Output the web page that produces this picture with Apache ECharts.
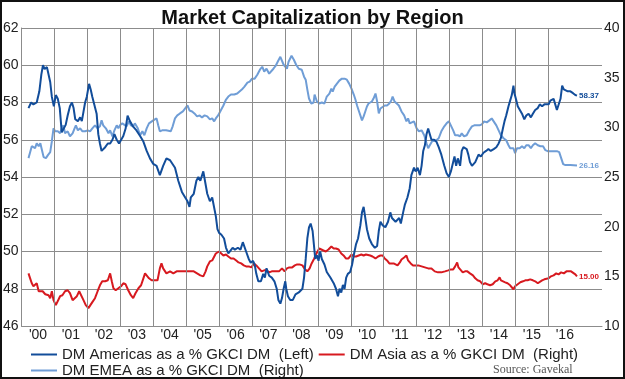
<!DOCTYPE html>
<html>
<head>
<meta charset="utf-8">
<script src="https://cdn.jsdelivr.net/npm/echarts@6/dist/echarts.min.js"></script>
<style>
html,body{margin:0;padding:0;background:#fff;}
#chart{width:625px;height:379px;}
</style>
</head>
<body>
<div id="chart"></div>
<script>
// ---- DATA (decimal year, value) ----
const americas = [
[2000.21,57.7],[2000.29,58.0],[2000.36,57.9],[2000.46,58.0],[2000.54,58.6],[2000.60,59.5],[2000.65,60.0],[2000.70,59.8],[2000.77,59.9],[2000.82,59.8],[2000.87,59.1],[2000.92,58.3],[2000.98,57.8],
[2001.04,58.4],[2001.10,58.2],[2001.16,57.7],[2001.22,56.4],[2001.27,56.3],[2001.34,56.8],[2001.40,57.3],[2001.47,57.8],[2001.53,58.0],[2001.58,57.7],[2001.63,57.1],[2001.71,57.0],[2001.78,57.2],[2001.83,57.0],[2001.88,57.5],[2001.93,58.0],[2001.98,58.3],
[2002.05,59.0],[2002.10,58.7],[2002.15,58.3],[2002.21,58.2],[2002.28,57.4],[2002.33,56.3],[2002.38,55.8],[2002.43,55.4],[2002.48,55.3],[2002.54,55.6],[2002.62,55.8],[2002.69,55.8],[2002.76,56.0],[2002.82,56.3],[2002.89,56.0],[2002.96,55.8],
[2003.02,55.7],[2003.09,56.2],[2003.16,56.6],[2003.22,57.3],[2003.29,57.0],[2003.39,56.7],[2003.49,56.5],[2003.60,56.2],[2003.70,55.9],[2003.80,55.4],[2003.90,55.0],
[2004.00,54.7],[2004.10,54.6],[2004.20,54.1],[2004.30,54.6],[2004.40,55.0],[2004.51,54.9],[2004.56,55.0],[2004.66,54.5],[2004.76,53.8],[2004.87,53.2],[2004.97,52.9],
[2005.04,52.7],[2005.10,52.4],[2005.14,52.9],[2005.23,53.1],[2005.31,53.8],[2005.37,54.0],[2005.43,53.8],[2005.52,54.3],[2005.57,53.8],[2005.64,53.1],[2005.72,52.7],[2005.79,52.9],[2005.85,52.8],[2005.90,51.9],[2005.95,51.2],
[2006.00,51.0],[2006.07,50.9],[2006.15,50.7],[2006.21,50.2],[2006.28,49.9],[2006.34,50.0],[2006.41,50.2],[2006.48,50.1],[2006.57,50.2],[2006.65,50.1],[2006.72,50.5],[2006.77,50.4],[2006.82,50.0],[2006.90,49.6],[2006.96,49.4],
[2007.03,49.5],[2007.08,49.3],[2007.13,48.8],[2007.19,48.4],[2007.27,48.4],[2007.34,48.8],[2007.39,48.6],[2007.44,49.1],[2007.52,48.7],[2007.60,48.6],[2007.68,48.4],[2007.75,48.0],[2007.80,47.4],[2007.86,47.2],[2007.91,47.5],[2007.96,48.0],
[2008.01,48.4],[2008.04,48.0],[2008.09,47.6],[2008.16,47.4],[2008.24,47.4],[2008.32,47.7],[2008.42,47.8],[2008.53,48.0],[2008.58,48.6],[2008.63,49.6],[2008.68,50.7],[2008.73,51.3],[2008.78,51.5],[2008.84,51.1],[2008.92,49.6],[2008.97,49.8],
[2009.02,49.5],[2009.07,50.0],[2009.12,49.6],[2009.20,49.3],[2009.27,48.9],[2009.38,48.6],[2009.48,48.3],[2009.55,48.0],[2009.61,47.6],[2009.66,48.0],[2009.71,47.8],[2009.76,48.2],[2009.81,48.0],[2009.86,48.6],[2009.91,48.8],[2009.98,48.9],
[2010.04,49.3],[2010.09,49.8],[2010.16,50.4],[2010.22,50.7],[2010.29,51.4],[2010.34,52.1],[2010.39,52.4],[2010.44,51.8],[2010.49,51.2],[2010.56,50.7],[2010.64,50.4],[2010.73,50.2],[2010.80,50.3],[2010.85,51.1],[2010.90,51.6],[2010.97,51.4],
[2011.05,51.3],[2011.13,51.6],[2011.20,52.1],[2011.25,51.8],[2011.30,51.9],[2011.36,51.6],[2011.42,51.7],[2011.47,51.8],[2011.52,51.5],[2011.59,52.1],[2011.64,52.5],[2011.72,52.9],[2011.79,53.4],[2011.84,54.1],[2011.92,54.5],[2011.97,54.3],
[2012.03,54.5],[2012.10,54.1],[2012.15,54.6],[2012.20,55.4],[2012.25,55.7],[2012.30,56.3],[2012.35,56.6],[2012.40,56.3],[2012.45,56.0],[2012.53,56.0],[2012.60,55.9],[2012.67,55.6],[2012.75,55.2],[2012.84,54.6],[2012.91,54.2],[2012.98,54.0],
[2013.04,54.3],[2013.11,54.8],[2013.15,55.1],[2013.20,54.6],[2013.25,55.0],[2013.32,54.6],[2013.37,55.4],[2013.42,55.6],[2013.47,55.5],[2013.52,55.5],[2013.57,55.2],[2013.62,54.8],[2013.68,54.6],[2013.73,54.5],[2013.78,54.8],[2013.83,55.0],[2013.88,55.2],[2013.95,55.1],
[2014.03,55.3],[2014.11,55.4],[2014.18,55.5],[2014.25,55.4],[2014.34,55.5],[2014.42,55.6],[2014.49,55.8],[2014.56,56.1],[2014.62,56.6],[2014.67,57.0],[2014.72,57.3],[2014.79,57.8],[2014.84,58.1],[2014.89,58.4],[2014.94,58.9],[2014.97,58.5],
[2015.03,58.1],[2015.07,57.8],[2015.13,57.7],[2015.20,57.4],[2015.27,57.1],[2015.33,57.3],[2015.40,57.4],[2015.47,57.2],[2015.53,57.4],[2015.60,57.6],[2015.68,57.7],[2015.74,57.9],[2015.81,57.8],[2015.88,57.9],[2015.94,58.0],
[2016.01,57.9],[2016.06,58.1],[2016.11,58.0],[2016.16,58.2],[2016.21,57.9],[2016.26,57.6],[2016.31,57.5],[2016.37,58.2],[2016.42,58.9],[2016.47,58.7],[2016.52,58.6],[2016.59,58.6],[2016.67,58.6],[2016.75,58.5],[2016.82,58.4],[2016.87,58.37]
];
const emea = [
[2000.21,26.9],[2000.26,27.5],[2000.31,28.1],[2000.36,28.2],[2000.41,27.9],[2000.46,28.4],[2000.52,28.1],[2000.57,28.4],[2000.62,27.7],[2000.67,27.0],[2000.74,26.9],[2000.80,27.2],[2000.87,27.5],[2000.92,28.6],[2000.97,29.9],
[2001.02,29.6],[2001.10,29.6],[2001.17,29.4],[2001.22,29.9],[2001.27,30.2],[2001.32,29.4],[2001.40,29.6],[2001.47,29.1],[2001.55,29.4],[2001.61,29.9],[2001.65,30.2],[2001.71,29.7],[2001.78,29.9],[2001.85,29.6],[2001.93,29.6],
[2002.01,29.7],[2002.08,29.6],[2002.15,29.9],[2002.23,30.2],[2002.31,29.9],[2002.38,30.1],[2002.43,30.7],[2002.48,30.2],[2002.56,29.9],[2002.64,29.4],[2002.69,29.7],[2002.76,29.1],[2002.82,29.7],[2002.89,30.2],[2002.94,29.9],[2002.99,30.2],
[2003.06,30.4],[2003.12,30.2],[2003.19,30.1],[2003.26,30.6],[2003.32,30.2],[2003.39,30.1],[2003.44,30.4],[2003.53,29.9],[2003.60,29.2],[2003.67,29.6],[2003.73,29.2],[2003.80,29.9],[2003.87,30.4],[2003.93,30.6],
[2004.00,30.7],[2004.05,30.6],[2004.10,30.9],[2004.15,30.2],[2004.20,29.6],[2004.27,29.7],[2004.39,29.7],[2004.45,29.9],[2004.53,29.6],[2004.59,30.1],[2004.66,30.9],[2004.73,31.2],[2004.81,31.4],[2004.90,31.6],[2004.97,31.9],
[2005.04,32.2],[2005.10,31.7],[2005.18,31.6],[2005.25,31.4],[2005.33,31.1],[2005.41,31.2],[2005.48,31.0],[2005.56,31.2],[2005.64,31.1],[2005.72,30.8],[2005.79,30.9],[2005.85,30.6],[2005.90,30.9],[2005.97,31.2],
[2006.05,31.7],[2006.13,32.2],[2006.21,32.8],[2006.28,33.1],[2006.36,33.3],[2006.46,33.3],[2006.55,33.4],[2006.62,33.6],[2006.69,33.8],[2006.77,34.1],[2006.86,34.5],[2006.93,34.6],
[2007.00,34.9],[2007.08,34.9],[2007.16,35.3],[2007.24,35.8],[2007.31,36.1],[2007.37,35.6],[2007.44,35.9],[2007.52,35.4],[2007.58,35.6],[2007.65,35.9],[2007.72,36.2],[2007.78,36.6],[2007.86,37.1],[2007.91,36.9],[2007.96,36.3],
[2008.01,36.3],[2008.06,35.9],[2008.11,36.6],[2008.20,37.2],[2008.27,36.8],[2008.34,36.3],[2008.42,35.9],[2008.51,35.8],[2008.58,35.1],[2008.63,34.8],[2008.68,33.8],[2008.73,32.9],[2008.80,32.4],[2008.87,32.5],[2008.90,33.3],[2008.97,32.6],
[2009.04,32.4],[2009.12,32.5],[2009.20,32.4],[2009.27,33.1],[2009.35,33.4],[2009.41,33.9],[2009.45,33.6],[2009.51,34.1],[2009.58,34.4],[2009.65,34.7],[2009.73,34.9],[2009.81,34.9],[2009.88,34.8],[2009.95,34.4],
[2010.02,33.9],[2010.09,33.3],[2010.14,32.8],[2010.19,32.2],[2010.24,31.7],[2010.29,31.2],[2010.34,30.7],[2010.39,31.1],[2010.44,31.6],[2010.49,32.1],[2010.54,32.4],[2010.59,32.2],[2010.64,32.6],[2010.69,32.9],[2010.75,33.4],[2010.80,32.6],[2010.85,31.4],[2010.90,31.9],[2010.95,32.1],
[2011.03,32.2],[2011.10,32.2],[2011.17,32.4],[2011.23,32.7],[2011.27,33.1],[2011.33,32.6],[2011.39,32.4],[2011.46,32.2],[2011.54,31.6],[2011.62,31.2],[2011.69,30.6],[2011.74,30.9],[2011.79,30.4],[2011.84,30.2],[2011.92,30.6],
[2012.00,29.9],[2012.07,29.6],[2012.15,29.7],[2012.23,29.2],[2012.30,28.4],[2012.35,27.9],[2012.40,28.2],[2012.47,28.6],[2012.53,28.4],[2012.60,28.7],[2012.67,28.9],[2012.75,29.6],[2012.84,30.1],[2012.91,30.4],[2012.98,30.6],
[2013.04,30.4],[2013.11,29.7],[2013.17,29.2],[2013.25,29.2],[2013.32,29.1],[2013.37,29.4],[2013.44,29.1],[2013.52,29.2],[2013.60,29.7],[2013.68,30.1],[2013.75,30.2],[2013.83,30.2],[2013.91,30.2],[2013.98,30.3],
[2014.05,30.6],[2014.13,30.5],[2014.21,30.7],[2014.28,30.9],[2014.34,30.6],[2014.42,30.2],[2014.49,29.7],[2014.56,29.2],[2014.64,28.9],[2014.72,28.7],[2014.79,28.2],[2014.84,27.9],[2014.89,27.7],[2014.94,27.9],[2014.99,27.4],
[2015.05,27.9],[2015.13,27.9],[2015.20,28.1],[2015.27,27.9],[2015.33,28.2],[2015.40,28.2],[2015.47,27.9],[2015.53,28.2],[2015.60,28.4],[2015.68,28.2],[2015.76,28.1],[2015.84,28.1],[2015.91,27.7],[2015.98,27.6],
[2016.06,27.6],[2016.16,27.6],[2016.26,27.6],[2016.33,27.5],[2016.39,26.9],[2016.45,26.3],[2016.52,26.2],[2016.67,26.2],[2016.87,26.16]
];
const asia = [
[2000.21,15.3],[2000.26,14.8],[2000.31,14.3],[2000.36,14.0],[2000.41,14.2],[2000.46,14.3],[2000.52,13.5],[2000.57,13.3],[2000.64,13.5],[2000.72,13.2],[2000.77,13.0],[2000.82,13.1],[2000.87,12.8],[2000.92,13.5],[2000.97,12.6],
[2001.04,12.1],[2001.10,12.3],[2001.17,13.0],[2001.24,13.1],[2001.32,13.5],[2001.40,13.6],[2001.47,13.3],[2001.55,12.6],[2001.61,12.4],[2001.68,13.0],[2001.75,13.5],[2001.81,13.3],[2001.88,12.6],[2001.95,12.1],
[2002.03,11.8],[2002.08,11.9],[2002.15,12.4],[2002.23,12.8],[2002.31,13.5],[2002.38,14.1],[2002.45,14.5],[2002.54,14.5],[2002.62,14.6],[2002.69,15.3],[2002.74,14.5],[2002.79,13.8],[2002.86,13.6],[2002.94,13.8],
[2003.02,14.0],[2003.09,14.3],[2003.16,14.2],[2003.24,13.6],[2003.32,13.1],[2003.39,12.8],[2003.46,13.3],[2003.55,13.8],[2003.63,14.1],[2003.70,14.8],[2003.75,15.3],[2003.80,15.5],[2003.87,14.8],[2003.95,14.6],
[2004.05,14.6],[2004.13,14.6],[2004.20,15.8],[2004.25,16.3],[2004.30,15.8],[2004.40,15.3],[2004.51,15.5],[2004.61,15.3],[2004.71,15.5],[2004.81,15.5],[2004.92,15.5],
[2005.02,15.5],[2005.12,15.5],[2005.23,15.5],[2005.33,15.3],[2005.43,15.1],[2005.52,15.0],[2005.59,15.5],[2005.64,16.0],[2005.72,16.5],[2005.79,16.6],[2005.85,16.8],[2005.90,17.3],[2005.95,17.5],
[2006.00,17.5],[2006.05,17.3],[2006.13,17.1],[2006.21,17.2],[2006.28,17.0],[2006.36,16.8],[2006.44,16.8],[2006.52,16.6],[2006.59,16.4],[2006.67,16.3],[2006.75,16.1],[2006.82,16.0],[2006.90,16.0],[2006.98,15.9],
[2007.06,16.3],[2007.13,16.1],[2007.21,15.8],[2007.29,15.5],[2007.37,15.6],[2007.44,15.6],[2007.52,15.4],[2007.60,15.5],[2007.68,15.5],[2007.75,15.5],[2007.82,15.5],[2007.91,15.8],[2007.99,15.5],
[2008.06,15.8],[2008.13,15.9],[2008.22,15.9],[2008.30,16.1],[2008.37,16.2],[2008.44,16.2],[2008.53,16.1],[2008.61,15.7],[2008.68,15.5],[2008.75,15.8],[2008.81,16.3],[2008.89,16.8],[2008.94,17.2],[2008.99,17.5],
[2009.04,17.8],[2009.10,17.7],[2009.17,17.6],[2009.24,17.5],[2009.32,17.7],[2009.41,18.0],[2009.48,17.8],[2009.55,17.8],[2009.63,17.7],[2009.71,17.3],[2009.78,17.1],[2009.85,16.8],[2009.93,16.8],
[2010.02,17.2],[2010.09,17.0],[2010.16,17.0],[2010.24,17.1],[2010.32,17.2],[2010.39,17.1],[2010.46,17.2],[2010.52,17.3],[2010.59,17.1],[2010.66,17.0],[2010.75,16.8],[2010.83,17.0],[2010.90,17.1],[2010.97,17.1],
[2011.03,16.8],[2011.10,16.6],[2011.17,16.3],[2011.23,16.1],[2011.30,16.3],[2011.36,16.2],[2011.42,16.1],[2011.49,16.4],[2011.54,16.7],[2011.62,16.9],[2011.69,17.1],[2011.74,16.6],[2011.82,16.3],[2011.89,16.1],[2011.97,16.1],
[2012.05,16.1],[2012.15,16.0],[2012.25,15.9],[2012.35,15.8],[2012.45,15.8],[2012.55,15.5],[2012.65,15.4],[2012.75,15.4],[2012.86,15.5],[2012.96,15.6],
[2013.04,15.7],[2013.11,15.7],[2013.17,16.0],[2013.23,16.4],[2013.27,15.9],[2013.33,15.7],[2013.40,15.4],[2013.47,15.5],[2013.54,15.5],[2013.62,15.3],[2013.71,15.1],[2013.78,14.8],[2013.85,14.6],[2013.93,14.5],
[2014.01,14.2],[2014.08,14.3],[2014.15,14.2],[2014.23,14.1],[2014.31,14.2],[2014.39,14.5],[2014.46,14.6],[2014.52,14.9],[2014.56,14.6],[2014.62,14.5],[2014.69,14.4],[2014.76,14.3],[2014.84,14.1],[2014.89,13.9],[2014.94,13.7],[2014.99,14.0],
[2015.07,14.2],[2015.15,14.4],[2015.23,14.5],[2015.30,14.6],[2015.37,14.6],[2015.45,14.7],[2015.53,14.6],[2015.60,14.5],[2015.68,14.3],[2015.74,14.5],[2015.81,14.6],[2015.88,14.7],[2015.94,14.6],
[2016.01,14.8],[2016.08,15.0],[2016.16,15.1],[2016.24,15.3],[2016.31,15.2],[2016.39,15.4],[2016.47,15.3],[2016.55,15.5],[2016.62,15.5],[2016.69,15.5],[2016.75,15.3],[2016.82,15.2],[2016.87,15.0]
];
const gridYears = [2001,2002,2003,2004,2005,2006,2007,2008,2009,2010,2011,2012,2013,2014,2015,2016];
const seriesNames = ['DM Americas as a % GKCI DM  (Left)','DM Asia as a % GKCI DM  (Right)','DM EMEA as a % GKCI DM  (Right)'];
const titleText = 'Market Capitalization by Region';
const sourceText = 'Source: Gavekal';

// ---- STYLE ----
const FONT = '"Liberation Sans", Arial, sans-serif';
const C_AM = '#124d9a', C_AS = '#d7191f', C_EM = '#6f9dd6';
const GRID = '#8c8c8c';

const chart = echarts.init(document.getElementById('chart'), null, {renderer:'canvas'});
function endLbl(color){
  return {show:true, formatter:p=>p.value[1].toFixed(2), color:color, fontSize:8, fontWeight:'bold', fontFamily:FONT, distance:2};
}
chart.setOption({
  animation:false,
  backgroundColor:'#fff',
  textStyle:{fontFamily:FONT},
  title:{text:titleText, left:'center', top:3, textStyle:{fontSize:20, fontWeight:'bold', color:'#111', fontFamily:FONT}},
  grid:{left:21, right:23, top:28, bottom:53, containLabel:false},
  legend:[
    {data:[seriesNames[0], seriesNames[1]], left:26, top:342, itemWidth:26, itemHeight:14, itemGap:5, icon:'path://M0,6H26V8H0Z',
     textStyle:{fontSize:15, color:'#222', fontFamily:FONT}},
    {data:[seriesNames[2]], left:26, top:358, itemWidth:26, itemHeight:14, itemGap:5, icon:'path://M0,6H26V8H0Z',
     textStyle:{fontSize:15, color:'#222', fontFamily:FONT}}
  ],
  xAxis:{type:'value', min:2000, max:2017.63, interval:0.5,
    axisLine:{show:true, lineStyle:{color:GRID, width:1}}, axisTick:{show:false}, splitLine:{show:false},
    axisLabel:{margin:2, fontSize:14, color:'#222', fontFamily:FONT, showMinLabel:true, showMaxLabel:true,
      formatter:function(v){ const f=v-Math.floor(v); if(Math.abs(f-0.5)<0.01 && v<2017){return "'"+String(Math.floor(v)%100).padStart(2,'0');} return ''; }}},
  yAxis:[
    {type:'value', min:46, max:62, interval:2, position:'left',
     axisLine:{show:true, lineStyle:{color:GRID, width:1}}, axisTick:{show:false},
     splitLine:{show:true, lineStyle:{color:GRID, width:1}},
     axisLabel:{margin:3, fontSize:14, color:'#222', fontFamily:FONT}},
    {type:'value', min:10, max:40, interval:5, position:'right',
     axisLine:{show:false}, axisTick:{show:false}, splitLine:{show:false},
     axisLabel:{margin:2, fontSize:14, color:'#222', fontFamily:FONT}}
  ],
  series:[
    {type:'line', name:'gridlines', data:[], z:1, silent:true, xAxisIndex:0, yAxisIndex:0,
     markLine:{silent:true, symbol:['none','none'], label:{show:false}, animation:false,
       lineStyle:{color:GRID, width:1, type:'solid'}, emphasis:{disabled:true},
       data:gridYears.map(y=>({xAxis:y}))}},
    {type:'line', name:seriesNames[1], data:asia, yAxisIndex:1, showSymbol:false, symbol:'none', z:3,
     lineStyle:{color:C_AS, width:2}, itemStyle:{color:C_AS}, endLabel:endLbl(C_AS)},
    {type:'line', name:seriesNames[2], data:emea, yAxisIndex:1, showSymbol:false, symbol:'none', z:4,
     lineStyle:{color:C_EM, width:2}, itemStyle:{color:C_EM}, endLabel:endLbl(C_EM)},
    {type:'line', name:seriesNames[0], data:americas, yAxisIndex:0, showSymbol:false, symbol:'none', z:5,
     lineStyle:{color:C_AM, width:2}, itemStyle:{color:C_AM}, endLabel:endLbl(C_AM)}
  ],
  graphic:[
    {type:'text', left:493, top:364, style:{text:sourceText, font:'12px "Liberation Serif", "Times New Roman", serif', fill:'#555'}},
    {type:'rect', shape:{x:1, y:1, width:623, height:377}, style:{fill:null, stroke:'#111', lineWidth:2}, silent:true, z:100}
  ]
});
</script>
</body>
</html>
